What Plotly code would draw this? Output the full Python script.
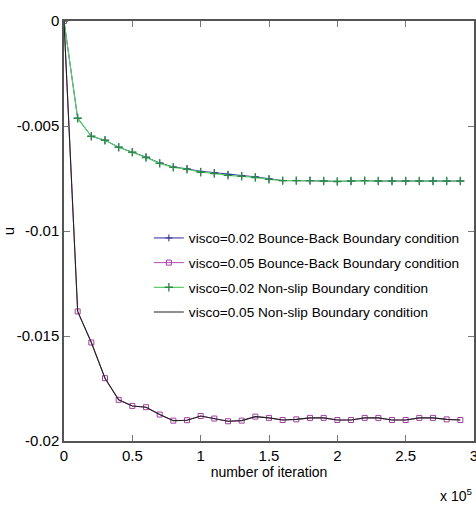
import plotly.graph_objects as go

iterations = [0, 10000, 20000, 30000, 40000, 50000, 60000, 70000, 80000, 90000,
              100000, 110000, 120000, 130000, 140000, 150000, 160000, 170000, 180000, 190000,
              200000, 210000, 220000, 230000, 240000, 250000, 260000, 270000, 280000, 290000]

bb_002 = [0, -0.00463, -0.00549, -0.00568, -0.00601, -0.00625, -0.00648, -0.00676, -0.00695, -0.00704,
          -0.00716, -0.00722, -0.00730, -0.00736, -0.00742, -0.00752, -0.00760, -0.00760, -0.00760, -0.00762,
          -0.00764, -0.00762, -0.00760, -0.00762, -0.00762, -0.00762, -0.00762, -0.00762, -0.00762, -0.00762]

bb_005 = [0, -0.01383, -0.01531, -0.01701, -0.01804, -0.01833, -0.01839, -0.01874, -0.01903, -0.01901,
          -0.01881, -0.01893, -0.01906, -0.01903, -0.01884, -0.01890, -0.01900, -0.01897, -0.01890, -0.01890,
          -0.01900, -0.01900, -0.01890, -0.01890, -0.01900, -0.01900, -0.01890, -0.01890, -0.01897, -0.01900]

ns_002 = [0, -0.00463, -0.00549, -0.00568, -0.00601, -0.00625, -0.00650, -0.00678, -0.00697, -0.00706,
          -0.00720, -0.00726, -0.00735, -0.00740, -0.00745, -0.00754, -0.00760, -0.00760, -0.00760, -0.00762,
          -0.00764, -0.00762, -0.00760, -0.00762, -0.00762, -0.00762, -0.00762, -0.00762, -0.00762, -0.00762]

ns_005 = [0, -0.01383, -0.01531, -0.01701, -0.01804, -0.01833, -0.01839, -0.01874, -0.01903, -0.01901,
          -0.01881, -0.01893, -0.01906, -0.01903, -0.01884, -0.01890, -0.01900, -0.01897, -0.01890, -0.01890,
          -0.01900, -0.01900, -0.01890, -0.01890, -0.01900, -0.01900, -0.01890, -0.01890, -0.01897, -0.01900]

series_names = ["visco=0.02 Bounce-Back Boundary condition",
                "visco=0.05 Bounce-Back Boundary condition",
                "visco=0.02 Non-slip Boundary condition",
                "visco=0.05 Non-slip Boundary condition"]

x_tick_vals = [0, 50000, 100000, 150000, 200000, 250000, 300000]
x_tick_text = ["0", "0.5", "1", "1.5", "2", "2.5", "3"]
y_tick_vals = [0, -0.005, -0.01, -0.015, -0.02]
y_tick_text = ["0", "-0.005", "-0.01", "-0.015", "-0.02"]

FONT = "Liberation Sans Narrow, Arial Narrow, Liberation Sans, Arial, sans-serif"

fig = go.Figure()
fig.add_trace(go.Scatter(x=iterations, y=bb_002, name=series_names[0], mode="lines+markers",
                         legendgroup="a",
                         line=dict(color="#2b2b9c", width=1),
                         marker=dict(symbol="cross-thin", size=5, line=dict(color="#2b2b9c", width=1))))
fig.add_trace(go.Scatter(x=iterations, y=bb_005, name=series_names[1], mode="lines+markers",
                         legendgroup="b",
                         line=dict(color="#b04cb0", width=1),
                         marker=dict(symbol="square-open", size=5, color="#a040a0",
                                     line=dict(color="#a040a0", width=1))))
fig.add_trace(go.Scatter(x=iterations, y=ns_002, name=series_names[2], mode="lines+markers",
                         legendgroup="c",
                         line=dict(color="#5ccf6a", width=1.2),
                         marker=dict(symbol="cross-thin", size=6, line=dict(color="#2f8a4a", width=1.4))))
fig.add_trace(go.Scatter(x=iterations, y=ns_005, name=series_names[3], mode="lines",
                         legendgroup="d",
                         line=dict(color="#222222", width=1.1)))

fig.update_layout(
    width=476, height=511,
    margin=dict(l=64, r=2, t=21, b=70, autoexpand=False),
    paper_bgcolor="white", plot_bgcolor="white",
    font=dict(family=FONT, size=14, color="black"),
    showlegend=True,
    legend=dict(x=0.207, y=0.52, xanchor="left", yanchor="top",
                bgcolor="rgba(255,255,255,0)", borderwidth=0,
                font=dict(family=FONT, size=13.6, color="black"),
                traceorder="grouped", tracegroupgap=4, itemwidth=30),
    xaxis=dict(range=[0, 300000], tickvals=x_tick_vals, ticktext=x_tick_text,
               showgrid=False, zeroline=False, showline=True, linecolor="#555", linewidth=1.5,
               mirror="ticks", ticks="inside", ticklen=6, tickcolor="#777",
               ticklabeloverflow="allow",
               title=dict(text="number of iteration", standoff=4,
                          font=dict(family=FONT, size=14, color="black")),
               tickfont=dict(family=FONT, size=15, color="black")),
    yaxis=dict(range=[-0.02, 0], tickvals=y_tick_vals, ticktext=y_tick_text,
               showgrid=False, zeroline=False, showline=True, linecolor="#555", linewidth=1.5,
               mirror="ticks", ticks="inside", ticklen=6, tickcolor="#777",
               ticklabeloverflow="allow",
               title=dict(text="u", standoff=12,
                          font=dict(family=FONT, size=15, color="black")),
               tickfont=dict(family=FONT, size=15, color="black")),
    annotations=[dict(text="x 10<sup>5</sup>", xref="paper", yref="paper",
                      x=1.0, y=-0.128, xanchor="right", yanchor="middle", showarrow=False,
                      font=dict(family=FONT, size=14, color="black"))],
)

fig.write_html("out.html", config={"displayModeBar": False},
               post_script="document.body.style.margin='0';document.body.style.overflow='hidden';")
